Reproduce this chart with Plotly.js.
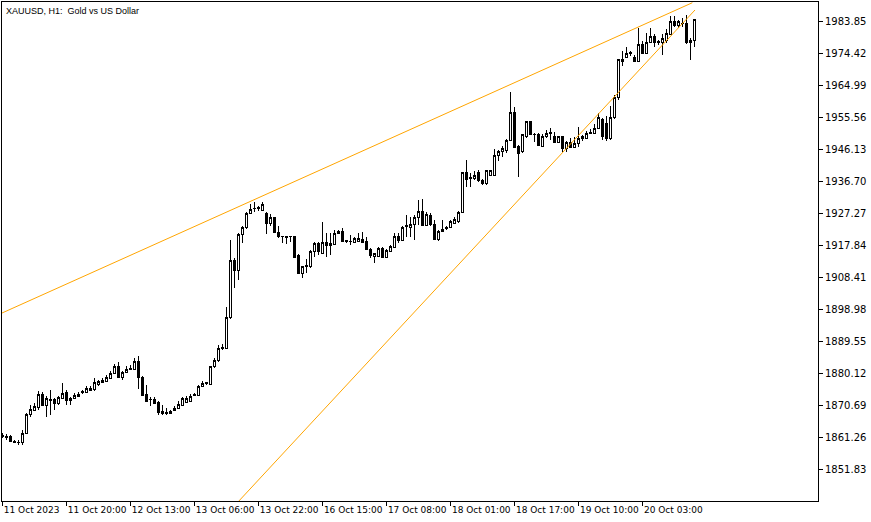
<!DOCTYPE html>
<html>
<head>
<meta charset="utf-8">
<script src="https://cdn.plot.ly/plotly-3.0.1.min.js"></script>
<style>html,body{margin:0;padding:0;background:#fff}#chart{width:871px;height:522px}
.trace.boxes path{shape-rendering:crispEdges}</style>
</head>
<body>
<div id="chart"></div>
<script>
// ---- Data (XAUUSD H1 OHLC) ----
const openPrices = [1861.84,1861.55,1861.84,1860.37,1860.07,1860.07,1862.72,1868.32,1869.50,1870.39,
1874.22,1870.98,1872.45,1872.74,1871.57,1873.04,1874.81,1872.45,1873.04,1873.63,
1874.81,1874.81,1875.40,1875.69,1877.17,1877.75,1878.05,1878.93,1880.41,1882.18,
1879.23,1880.70,1881.59,1881.59,1883.94,1879.23,1874.22,1872.74,1872.74,1871.86,
1869.21,1868.62,1868.62,1869.50,1870.09,1870.98,1871.86,1872.16,1873.92,1873.92,
1876.58,1877.46,1877.17,1882.18,1884.24,1887.77,1887.77,1896.62,1913.71,1910.76,
1921.08,1923.43,1927.56,1928.90,1929.03,1928.44,1927.56,1924.61,1926.09,1921.96,
1920.49,1920.49,1920.49,1920.49,1915.18,1909.88,1911.94,1911.65,1916.07,1918.72,
1915.77,1919.01,1918.13,1918.42,1921.66,1922.25,1919.31,1919.31,1919.01,1919.31,
1919.90,1919.31,1916.95,1914.89,1914.89,1917.24,1914.59,1916.36,1917.54,1920.49,
1919.60,1923.73,1923.43,1924.32,1926.38,1928.15,1924.02,1926.97,1924.32,1919.90,
1922.25,1923.14,1923.43,1924.61,1924.91,1927.85,1939.35,1937.87,1937.87,1939.35,
1937.28,1936.11,1938.76,1938.76,1944.36,1945.54,1946.12,1949.07,1957.32,1947.30,
1945.54,1949.96,1954.38,1950.84,1950.84,1947.30,1949.96,1951.13,1950.25,1948.48,
1949.96,1946.71,1948.48,1947.01,1948.19,1949.37,1949.66,1951.13,1951.13,1952.61,
1954.97,1954.08,1949.37,1955.56,1961.74,1972.35,1973.53,1974.71,1973.24,1972.35,
1977.36,1974.71,1977.95,1979.72,1977.95,1977.66,1978.54,1980.31,1983.85,1982.67,
1983.26,1983.55,1977.66,1978.54];
const highPrices = [1862.72,1862.43,1862.10,1860.66,1860.66,1863.60,1868.60,1870.98,1871.57,1875.10,
1874.81,1873.63,1875.40,1873.04,1873.63,1877.46,1875.40,1873.33,1874.51,1874.81,
1875.40,1876.58,1876.58,1878.93,1878.34,1878.93,1879.80,1881.00,1883.06,1883.65,
1881.00,1882.47,1882.77,1884.83,1885.42,1879.50,1876.87,1873.33,1873.33,1872.16,
1870.98,1870.09,1869.50,1870.68,1872.16,1873.33,1873.63,1874.22,1874.51,1876.87,
1878.05,1877.75,1882.47,1884.83,1888.66,1888.96,1899.86,1919.60,1914.30,1921.66,
1923.73,1927.85,1930.21,1930.80,1929.62,1930.80,1927.85,1927.26,1926.38,1923.73,
1920.78,1920.78,1920.78,1920.78,1915.48,1911.94,1914.00,1916.65,1919.01,1919.01,
1924.91,1921.66,1921.66,1922.55,1922.55,1923.14,1919.60,1921.08,1920.49,1921.66,
1921.96,1920.49,1917.24,1915.77,1917.54,1917.54,1916.95,1918.13,1921.66,1921.66,
1923.73,1926.97,1926.38,1926.97,1931.39,1931.69,1927.85,1927.56,1925.50,1922.55,
1925.50,1923.73,1925.50,1926.38,1928.15,1939.64,1943.18,1939.35,1939.94,1940.23,
1937.58,1940.23,1940.23,1946.42,1946.12,1947.30,1949.37,1963.22,1958.80,1947.60,
1950.84,1954.50,1954.67,1951.13,1951.13,1950.84,1952.02,1952.61,1951.43,1950.25,
1950.25,1948.78,1949.66,1949.96,1952.91,1950.55,1951.72,1952.31,1953.79,1957.03,
1955.56,1956.14,1959.09,1962.33,1972.94,1975.30,1976.48,1975.30,1974.12,1982.08,
1978.25,1980.60,1982.08,1980.31,1978.54,1980.31,1981.78,1985.61,1985.61,1984.44,
1985.00,1985.90,1979.13,1984.73];
const lowPrices = [1861.25,1860.66,1860.07,1859.80,1859.19,1859.19,1862.43,1867.44,1869.21,1869.50,
1870.68,1867.44,1868.03,1869.50,1870.98,1872.74,1870.98,1870.98,1872.74,1873.33,
1874.22,1874.51,1875.10,1875.10,1876.58,1877.46,1877.75,1878.60,1880.12,1878.93,
1878.34,1880.41,1881.29,1881.29,1875.69,1873.63,1871.86,1870.68,1871.27,1868.03,
1868.03,1868.03,1868.32,1869.21,1869.80,1870.68,1871.57,1871.86,1873.63,1873.63,
1876.29,1876.87,1876.87,1881.88,1883.65,1887.18,1887.48,1896.32,1905.46,1907.81,
1918.72,1922.84,1927.26,1927.85,1928.15,1928.15,1921.37,1923.73,1921.66,1920.19,
1918.72,1918.42,1919.01,1914.30,1909.58,1908.41,1909.88,1911.35,1914.59,1915.18,
1915.48,1914.59,1915.18,1918.13,1921.37,1919.01,1918.72,1918.13,1918.72,1919.01,
1918.72,1916.65,1914.30,1912.82,1914.59,1914.30,1914.30,1916.07,1917.24,1918.72,
1919.31,1920.49,1920.49,1919.60,1924.02,1923.73,1923.73,1923.73,1919.60,1919.31,
1921.96,1922.55,1923.14,1924.32,1924.61,1927.56,1935.22,1935.22,1937.28,1936.70,
1935.81,1935.81,1938.47,1938.47,1942.89,1944.06,1945.24,1948.78,1946.71,1938.17,
1945.24,1949.66,1950.55,1948.48,1947.30,1947.01,1949.66,1949.07,1948.19,1948.19,
1945.54,1945.54,1946.71,1946.71,1947.01,1948.78,1949.37,1950.84,1950.84,1952.31,
1949.07,1948.78,1949.07,1955.27,1960.86,1970.88,1973.20,1973.83,1972.06,1972.06,
1974.42,1974.42,1977.66,1976.48,1977.07,1974.12,1977.66,1980.01,1982.37,1982.08,
1982.37,1977.36,1972.65,1976.48];
const closePrices = [1861.90,1861.60,1860.37,1860.07,1859.80,1862.72,1868.32,1869.80,1870.68,1874.22,
1870.98,1873.04,1872.74,1871.57,1873.33,1874.51,1872.45,1873.04,1873.92,1874.22,
1874.90,1875.99,1875.99,1877.75,1878.05,1878.34,1879.23,1880.41,1882.18,1879.23,
1880.70,1881.59,1881.75,1883.94,1879.23,1873.92,1872.16,1872.60,1871.57,1868.91,
1868.62,1868.70,1869.21,1870.09,1871.27,1873.04,1873.04,1873.63,1874.00,1876.58,
1877.46,1877.50,1882.18,1884.24,1887.77,1888.07,1896.91,1913.71,1910.76,1921.08,
1923.43,1927.56,1928.74,1929.03,1929.10,1929.92,1924.61,1926.09,1921.96,1920.49,
1920.55,1920.40,1920.50,1914.59,1909.88,1911.65,1912.00,1916.36,1918.72,1916.07,
1919.01,1918.13,1918.72,1921.66,1922.25,1919.31,1919.35,1919.30,1920.19,1920.19,
1919.01,1916.95,1915.18,1915.48,1917.24,1914.59,1916.65,1917.83,1920.49,1919.60,
1923.43,1923.85,1924.32,1926.38,1928.15,1924.02,1927.26,1924.32,1919.90,1922.25,
1922.84,1923.20,1925.20,1925.50,1927.85,1939.35,1937.58,1937.90,1938.76,1937.28,
1936.40,1939.94,1939.94,1944.65,1945.54,1946.71,1949.07,1957.32,1947.01,1945.24,
1950.55,1954.38,1950.84,1950.80,1947.60,1949.96,1951.13,1951.20,1948.48,1949.96,
1946.71,1948.48,1947.01,1948.19,1949.66,1949.96,1951.13,1951.43,1952.61,1955.56,
1949.96,1949.37,1955.56,1961.74,1972.65,1972.94,1974.71,1974.75,1972.35,1977.36,
1974.71,1977.66,1979.43,1977.95,1978.00,1979.13,1980.60,1983.85,1982.96,1983.85,
1983.30,1977.66,1978.54,1984.44];

// x tick labels: one every 16 hourly bars
const xTickBars = [0,16,32,48,64,80,96,112,128,144,160];
const xTickLabels = ["11 Oct 2023","11 Oct 20:00","12 Oct 13:00","13 Oct 06:00","13 Oct 22:00",
  "16 Oct 15:00","17 Oct 08:00","18 Oct 01:00","18 Oct 17:00","19 Oct 10:00","20 Oct 03:00"];
// price scale labels
const yTickLabels = ["1851.83","1861.26","1870.69","1880.12","1889.55","1898.98","1908.41",
  "1917.84","1927.27","1936.70","1946.13","1955.56","1964.99","1974.42","1983.85"];

// trend lines (bar index, price)
const upperLineBars = [-0.75, 172.35];
const upperLinePrices = [1897.79, 1989.53];
const lowerLineBars = [55, 173];
const lowerLinePrices = [1837.6, 1987.38];

const chartTitle = "XAUUSD, H1:  Gold vs US Dollar";

// ---- Build ----
const barIndex = openPrices.map((_, i) => i);
const font = {family: "DejaVu Sans", size: 10, color: "#000"};
const xFont = {family: "DejaVu Sans", size: 9, color: "#000"};

const traces = [
  {
    type: "candlestick",
    x: barIndex, open: openPrices, high: highPrices, low: lowPrices, close: closePrices,
    increasing: {line: {color: "#000", width: 1}, fillcolor: "#ffffff"},
    decreasing: {line: {color: "#000", width: 1}, fillcolor: "#000000"},
    whiskerwidth: 0, hoverinfo: "skip", showlegend: false
  },
  {type: "scatter", mode: "lines", x: upperLineBars, y: upperLinePrices,
   line: {color: "#FFA500", width: 1}, hoverinfo: "skip", showlegend: false, cliponaxis: true},
  {type: "scatter", mode: "lines", x: lowerLineBars, y: lowerLinePrices,
   line: {color: "#FFA500", width: 1}, hoverinfo: "skip", showlegend: false, cliponaxis: true}
];

const layout = {
  width: 871, height: 522,
  margin: {l: 2, r: 53, t: 2, b: 21, pad: 0},
  paper_bgcolor: "#ffffff", plot_bgcolor: "#ffffff",
  font: font,
  showlegend: false,
  boxgap: 0.3,
  xaxis: {
    range: [-0.2, 203.75], showgrid: false, zeroline: false,
    showline: true, mirror: true, linecolor: "#000", linewidth: 1,
    ticks: "outside", ticklen: 4, tickcolor: "#000", tickwidth: 1,
    tickvals: xTickBars, ticktext: xTickLabels, tickfont: xFont,
    tickangle: 0, automargin: false,
    ticklabelposition: "outside right",
    rangeslider: {visible: false}, fixedrange: true
  },
  yaxis: {
    side: "right", automargin: false,
    range: [1842.69, 1989.74], showgrid: false, zeroline: false,
    showline: true, mirror: true, linecolor: "#000", linewidth: 1,
    ticks: "outside", ticklen: 4, tickcolor: "#000", tickwidth: 1,
    tickvals: yTickLabels.map(Number), ticktext: yTickLabels, tickfont: font,
    fixedrange: true
  },
  annotations: [{
    xref: "paper", yref: "paper", x: 0, y: 1, xanchor: "left", yanchor: "top",
    xshift: 2, yshift: -2, showarrow: false, text: chartTitle,
    font: {family: "Liberation Sans", size: 9, color: "#000"}
  }]
};

Plotly.newPlot("chart", traces, layout, {staticPlot: true, displayModeBar: false});
</script>
</body>
</html>
